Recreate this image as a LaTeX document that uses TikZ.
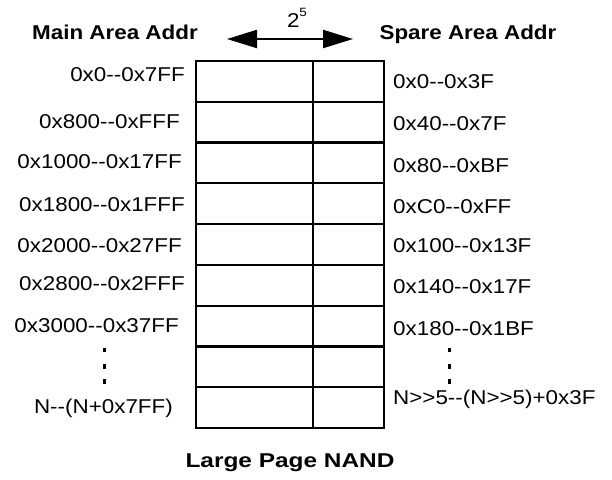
\documentclass[tikz,border=0pt]{standalone}
\usepackage{fontspec}
\setmainfont{Liberation Sans}[FakeStretch=1.12]
\usetikzlibrary{arrows.meta}
\definecolor{cline}{RGB}{0,0,0}

\begin{document}
\begin{tikzpicture}[x=1pt, y=-1pt,
    addr/.style={font=\fontsize{20}{24}\selectfont, inner sep=0pt},
    header/.style={font=\bfseries\fontsize{20}{24}\selectfont, inner sep=0pt}]
    \useasboundingbox (0,0) rectangle (612,479);
    % headings
    \node[header, anchor=base] (mainhead) at (115,39) {Main Area Addr};
    \node[header, anchor=base] (sparehead) at (468,39) {Spare Area Addr};
    \node[header, anchor=base] (title) at (290,467) {\scalebox{1.09}[1]{Large Page NAND}};
    % width arrow
    \coordinate (wl) at (227,39);
    \coordinate (wr) at (353,39);
    \draw[{Triangle[length=30pt,width=18pt]}-{Triangle[length=30pt,width=18pt]}, cline, line width=2.2pt] (wl) -- (wr);
    \node[addr, anchor=base] (width) at (297,27) {2\raisebox{10pt}{\fontsize{12}{12}\selectfont 5}};
    % page table
    \draw[cline, line width=2.2pt] (196,61) rectangle (384,428);
    \draw[cline, line width=2.2pt] (313,61) -- (313,428);
    \foreach \k in {1,...,8}{
      \draw[cline, line width=2.2pt] (196,61+\k*40.78) -- (384,61+\k*40.78);
    }
    % main area addresses
    \foreach \t/\xr/\yb [count=\i] in {0x0-{}-0x7FF/185/81, 0x800-{}-0xFFF/180/128,
        0x1000-{}-0x17FF/182/168, 0x1800-{}-0x1FFF/185/211, 0x2000-{}-0x27FF/182/252,
        0x2800-{}-0x2FFF/185/290, 0x3000-{}-0x37FF/179/332, N-{}-(N+0x7FF)/173/413}{
      \node[addr, anchor=base east] (main\i) at (\xr,\yb) {\t};
    }
    % spare area addresses
    \foreach \t/\yb [count=\i] in {0x0-{}-0x3F/88, 0x40-{}-0x7F/130, 0x80-{}-0xBF/172,
        0xC0-{}-0xFF/213, 0x100-{}-0x13F/252, 0x140-{}-0x17F/293, 0x180-{}-0x1BF/335,
        N>{}>5-{}-(N>{}>5)+0x3F/404}{
      \node[addr, anchor=base west] (spare\i) at (393,\yb) {\t};
    }
    % vertical dots
    \foreach \d in {350,366.5,381.5}{
      \fill[cline] (102.5,\d-2.3) rectangle ++(3.2,4.6);
      \fill[cline] (447.5,\d-2.3) rectangle ++(3.2,4.6);
    }
  \end{tikzpicture}
\end{document}
